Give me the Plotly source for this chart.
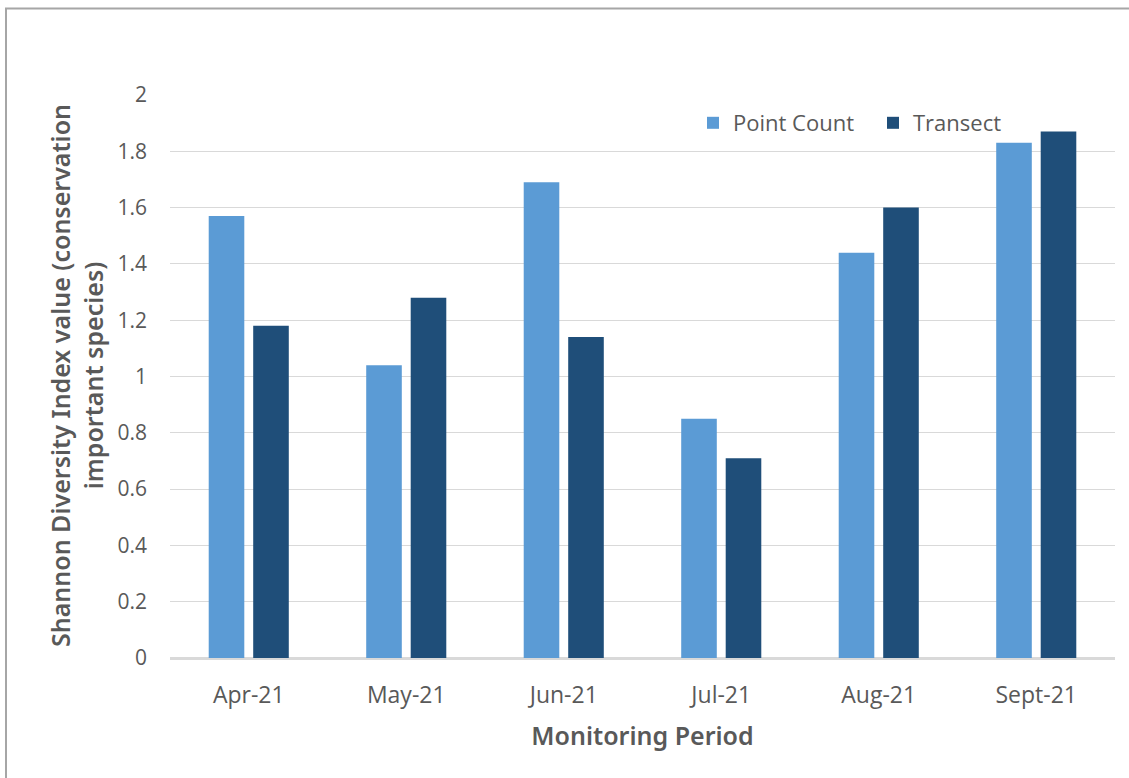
import plotly.graph_objects as go

months = ["Apr-21", "May-21", "Jun-21", "Jul-21", "Aug-21", "Sept-21"]
point_count = [1.57, 1.04, 1.69, 0.85, 1.44, 1.83]
transect = [1.18, 1.28, 1.14, 0.71, 1.60, 1.87]

y_ticks = [0, 0.2, 0.4, 0.6, 0.8, 1, 1.2, 1.4, 1.6, 1.8, 2]
y_tick_text = ["0", "0.2", "0.4", "0.6", "0.8", "1", "1.2", "1.4", "1.6", "1.8", "2"]

text_color = "#595959"
font_family = "Open Sans, Noto Sans, sans-serif"
title_family = "Noto Sans, Open Sans, sans-serif"

fig = go.Figure()
fig.add_trace(go.Bar(name="Point Count", x=months, y=point_count,
                     marker=dict(color="#5B9BD5", line=dict(width=0))))
fig.add_trace(go.Bar(name="Transect", x=months, y=transect,
                     marker=dict(color="#1F4E79", line=dict(width=0))))

W, H = 1129, 778
ml, mr, mt, mb = 170, 14, 95, 120
pw, ph = W - ml - mr, H - mt - mb

fig.update_layout(
    width=W, height=H,
    margin=dict(l=ml, r=mr, t=mt, b=mb),
    paper_bgcolor="white", plot_bgcolor="white",
    barmode="group", bargap=0.435, bargroupgap=0.2,
    font=dict(family=font_family, color=text_color, size=21),
    legend=dict(orientation="h", x=(693 - ml) / pw, xanchor="left",
                y=(658 - 123) / ph, yanchor="middle",
                font=dict(size=22, color=text_color),
                bgcolor="rgba(0,0,0,0)", itemwidth=30, entrywidth=135,
                traceorder="normal"),
    xaxis=dict(
        showgrid=False, showline=True, linecolor="#D9D9D9", linewidth=1.5,
        ticks="", ticklabelstandoff=16, tickfont=dict(size=23, color=text_color),
        title=dict(text="Monitoring Period",
                   font=dict(family=title_family, size=25, color=text_color, weight=600),
                   standoff=18),
    ),
    yaxis=dict(
        range=[0, 2], tickvals=y_ticks, ticktext=y_tick_text,
        showgrid=True, gridcolor="#D9D9D9", gridwidth=1,
        zeroline=True, zerolinecolor="#D9D9D9", zerolinewidth=1.5,
        showline=False, ticks="", ticklabelstandoff=22,
        tickfont=dict(size=21, color=text_color),
    ),
    shapes=[dict(type="rect", xref="paper", yref="paper",
                 x0=(6 - ml) / pw, x1=(1140 - ml) / pw,
                 y0=(658 - 790) / ph, y1=(658 - 8.5) / ph,
                 line=dict(color="#A6A6A6", width=2), fillcolor="rgba(0,0,0,0)",
                 layer="below")],
    annotations=[dict(text="Shannon Diversity Index value (conservation<br>important species)",
                      xref="paper", yref="paper", x=(76 - ml) / pw, y=(658 - 376) / ph,
                      xanchor="center", yanchor="middle", textangle=-90, showarrow=False,
                      font=dict(family=title_family, size=25, color=text_color, weight=600))],
)

fig.write_html("out.html")
